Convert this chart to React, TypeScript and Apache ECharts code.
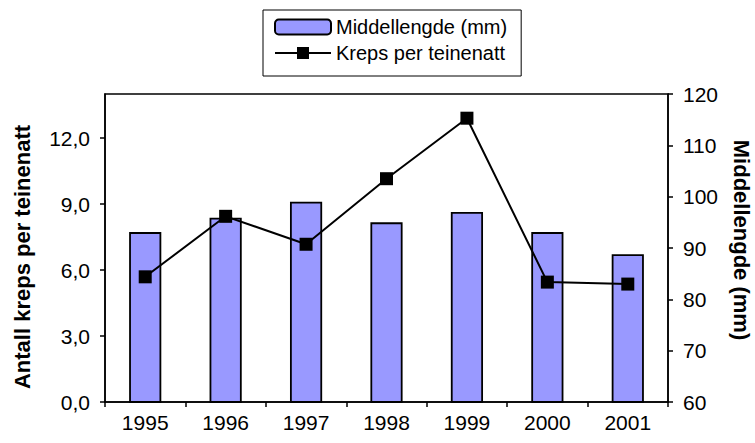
import React, { useEffect, useRef } from "react";
import * as echarts from "echarts";

const years = ["1995", "1996", "1997", "1998", "1999", "2000", "2001"];
const middellengde = [93.1, 95.9, 99.0, 95.0, 97.0, 93.1, 88.8];
const kreps = [5.69, 8.44, 7.17, 10.15, 12.9, 5.45, 5.36];
const leftTicks = [0, 3, 6, 9, 12];

const FONT = "'Liberation Sans', Arial, sans-serif";

export default function App() {
  const ref = useRef<HTMLDivElement>(null);
  useEffect(() => {
    if (!ref.current) return;
    const chart = echarts.init(ref.current, null, { renderer: "svg" });
    chart.setOption({
      animation: false,
      backgroundColor: "#ffffff",
      textStyle: { fontFamily: FONT, color: "#000" },
      legend: {
        orient: "vertical",
        left: 263,
        top: 10,
        padding: [7, 14, 13, 11],
        borderColor: "#000",
        borderWidth: 1,
        itemWidth: 56,
        itemHeight: 15,
        itemGap: 6,
        textStyle: { fontFamily: FONT, fontSize: 20, color: "#000", lineHeight: 20 },
        data: ["Middellengde (mm)", "Kreps per teinenatt"],
      },
      grid: {
        left: 105,
        right: 87,
        top: 94,
        bottom: 41,
        show: true,
        borderColor: "#000",
        borderWidth: 1.5,
        containLabel: false,
        outerBoundsMode: "none",
      },
      xAxis: {
        type: "category",
        data: years,
        boundaryGap: true,
        axisLine: { lineStyle: { color: "#000", width: 1.5 } },
        axisTick: { show: true, length: 5, lineStyle: { color: "#000", width: 1.5 } },
        axisLabel: { fontFamily: FONT, fontSize: 21, color: "#000", margin: 10 },
      },
      yAxis: [
        {
          type: "value",
          position: "left",
          min: 0,
          max: 14,
          interval: 3,
          name: "Antall kreps per teinenatt",
          nameLocation: "middle",
          nameRotate: 90,
          nameGap: 72,
          nameTextStyle: {
            fontFamily: FONT,
            fontSize: 22,
            fontWeight: "bold",
            color: "#000",
            padding: [0, 18, 0, 0],
          },
          axisLine: { show: true, lineStyle: { color: "#000", width: 1.5 } },
          axisTick: { show: true, length: 5, customValues: leftTicks, lineStyle: { color: "#000", width: 1.5 } },
          axisLabel: {
            fontFamily: FONT,
            fontSize: 21,
            color: "#000",
            margin: 15,
            customValues: leftTicks,
            formatter: (v: number) => v.toFixed(1).replace(".", ","),
          },
          splitLine: { show: false },
        },
        {
          type: "value",
          position: "right",
          min: 60,
          max: 120,
          interval: 10,
          name: "Middellengde (mm)",
          nameLocation: "middle",
          nameRotate: -90,
          nameGap: 62,
          nameTextStyle: {
            fontFamily: FONT,
            fontSize: 22,
            fontWeight: "bold",
            color: "#000",
            padding: [0, 16, 0, 0],
          },
          axisLine: { show: true, lineStyle: { color: "#000", width: 1.5 } },
          axisTick: { show: true, length: 5, lineStyle: { color: "#000", width: 1.5 } },
          axisLabel: { fontFamily: FONT, fontSize: 21, color: "#000", margin: 15 },
          splitLine: { show: false },
        },
      ],
      series: [
        {
          name: "Middellengde (mm)",
          type: "bar",
          yAxisIndex: 1,
          data: middellengde,
          barWidth: "40%",
          itemStyle: { color: "#9999FF", borderColor: "#000", borderWidth: 1.8 },
        },
        {
          name: "Kreps per teinenatt",
          type: "line",
          yAxisIndex: 0,
          data: kreps,
          symbol: "rect",
          symbolSize: 13,
          color: "#000",
          lineStyle: { color: "#000", width: 2 },
          itemStyle: { color: "#000" },
        },
      ],
    });
    return () => chart.dispose();
  }, []);
  return (
    <div
      ref={ref}
      style={{ position: "fixed", left: 0, top: 0, width: 755, height: 443 }}
    />
  );
}
